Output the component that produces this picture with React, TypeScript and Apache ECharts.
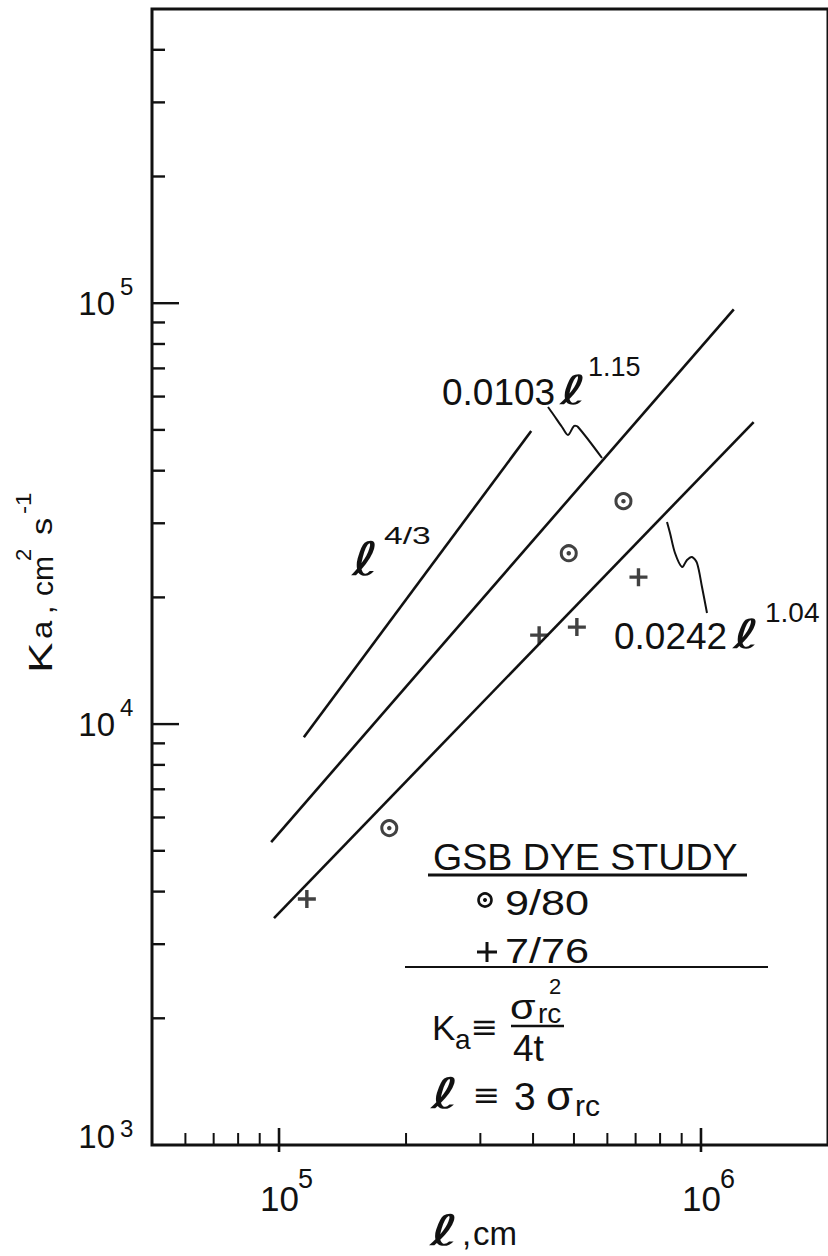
import React, { useEffect, useRef } from "react";
import * as echarts from "echarts";

// ---- axis ranges ----
const X_MIN = 5e4;
const X_MAX = 2e6;
const Y_MIN = 1e3;
const Y_MAX = 5e5;

// ---- ticks ----
const xMajorTicks = [1e5, 1e6];
const xMinorTicks = [6e4, 7e4, 8e4, 9e4, 2e5, 3e5, 4e5, 5e5, 6e5, 7e5, 8e5, 9e5];
const yMajorTicks = [1e4, 1e5];
const yMinorTicks = [
  2e3, 3e3, 4e3, 5e3, 6e3, 7e3, 8e3, 9e3,
  2e4, 3e4, 4e4, 5e4, 6e4, 7e4, 8e4, 9e4,
  2e5, 3e5, 4e5,
];
const xTickLabels = [1e5, 1e6];
const yTickLabels = [1e3, 1e4, 1e5];

// ---- lines (end points) ----
const line43 = [
  [1.145e5, 9310],
  [3.96e5, 4.97e4],
];
const fit0103 = [
  [9.58e4, 5245],
  [1.196e6, 9.67e4],
];
const fit0242 = [
  [9.73e4, 3461],
  [1.333e6, 5.22e4],
];

// ---- data points ----
const dye980 = [
  [1.825e5, 5662],
  [4.86e5, 2.547e4],
  [6.55e5, 3.386e4],
];
const dye776 = [
  [1.164e5, 3840],
  [4.135e5, 1.627e4],
  [5.08e5, 1.7e4],
  [7.11e5, 2.234e4],
];

const INK = "#111111";
const FF = '"Liberation Sans", Arial, "DejaVu Sans", sans-serif';
const LF = '"DejaVu Sans", sans-serif';

const PLUS = "path://M7.3 0h3.4v7.3h7.3v3.4h-7.3v7.3h-3.4v-7.3h-7.3v-3.4h7.3z";

type TOpts = { italic?: boolean; family?: string; align?: string; sx?: number };
const T = (text: string, x: number, y: number, size: number, o: TOpts = {}) => ({
  type: "text",
  x,
  y,
  scaleX: o.sx || 1,
  silent: true,
  style: {
    text,
    font: `${o.italic ? "italic " : ""}${size}px ${o.family || FF}`,
    fill: INK,
    align: o.align || "left",
    textAlign: o.align || "left",
    verticalAlign: "middle",
    textVerticalAlign: "middle",
  },
});
const ELL = (x: number, y: number, size: number, sx = 1.4) =>
  T("ℓ", x, y, size, { italic: true, family: LF, sx });

const L = (x1: number, y1: number, x2: number, y2: number, w: number) => ({
  type: "line",
  silent: true,
  shape: { x1, y1, x2, y2 },
  style: { stroke: INK, lineWidth: w },
});

const isPow10 = (v: number) => Math.abs(Math.log10(v) - Math.round(Math.log10(v))) < 1e-9;

const tickSeries = (vals: number[], axis: "x" | "y") => ({
  type: "custom",
  coordinateSystem: "cartesian2d",
  clip: false,
  silent: true,
  z: 5,
  data: vals.map((v) => (axis === "x" ? [v, Y_MIN] : [X_MIN, v])),
  renderItem: (params: any, api: any) => {
    const v = api.value(axis === "x" ? 0 : 1);
    const p = api.coord([api.value(0), api.value(1)]);
    const major = isPow10(v);
    if (axis === "x") {
      const up = major ? 17 : 12;
      const down = major ? 7 : 0;
      return {
        type: "line",
        shape: { x1: p[0], y1: p[1] + down, x2: p[0], y2: p[1] - up },
        style: { stroke: INK, lineWidth: major ? 2.6 : 2 },
      };
    }
    const len = major ? 27 : 13;
    return {
      type: "line",
      shape: { x1: p[0], y1: p[1], x2: p[0] + len, y2: p[1] },
      style: { stroke: INK, lineWidth: 2.4 },
    };
  },
});

const labelSeries = (vals: number[], axis: "x" | "y") => ({
  type: "custom",
  coordinateSystem: "cartesian2d",
  clip: false,
  silent: true,
  z: 5,
  data: vals.map((v) => (axis === "x" ? [v, Y_MIN] : [X_MIN, v])),
  renderItem: (params: any, api: any) => {
    const v = api.value(axis === "x" ? 0 : 1);
    const p = api.coord([api.value(0), api.value(1)]);
    const e = String(Math.round(Math.log10(v)));
    if (axis === "x") {
      return {
        type: "group",
        children: [
          T("10", p[0] + 20, p[1] + 53, 35, { align: "right" }),
          T(e, p[0] + 19, p[1] + 34, 27),
        ],
      };
    }
    const dy = v === Y_MIN ? -9 : 0;
    return {
      type: "group",
      children: [
        T("10", p[0] - 37, p[1] + dy, 33, { align: "right" }),
        T(e, p[0] - 32, p[1] - 17, 24),
      ],
    };
  },
});

const lineSeries = (data: number[][]) => ({
  type: "line",
  data,
  symbol: "none",
  silent: true,
  z: 3,
  lineStyle: { color: INK, width: 2.6 },
});

export default function App() {
  const ref = useRef<HTMLDivElement>(null);

  useEffect(() => {
    if (!ref.current) return;
    const chart = echarts.init(ref.current, null, { renderer: "svg" });

    const axisCommon = {
      axisLine: { show: false },
      axisTick: { show: false },
      axisLabel: { show: false },
      splitLine: { show: false },
      minorTick: { show: false },
    };

    const graphic: any[] = [
      // line annotations
      T("0.0103", 442, 392, 37),
      ELL(560, 390, 40, 1.6),
      T("1.15", 588, 367, 27),
      {
        type: "polyline",
        silent: true,
        shape: {
          points: [
            [548, 407], [553, 414], [562, 427], [568, 435], [574, 426], [578, 427], [602, 458],
          ],
          smooth: 0.3,
        },
        style: { stroke: INK, lineWidth: 2, fill: "none" },
      },
      ELL(352, 559, 46, 1.4),
      T("4/3", 384, 536, 24, { sx: 1.4 }),
      T("0.0242", 614, 636, 37),
      ELL(733, 634, 40, 1.6),
      T("1.04", 765, 612, 28),
      {
        type: "polyline",
        silent: true,
        shape: {
          points: [
            [667, 522], [670, 533], [675, 553], [682, 567], [687, 560], [692, 557], [697, 563], [702, 587], [707, 613],
          ],
          smooth: 0.3,
        },
        style: { stroke: INK, lineWidth: 2, fill: "none" },
      },

      // legend block
      T("GSB DYE STUDY", 433, 857, 37, { sx: 1.015 }),
      L(428, 875, 747, 875, 3),
      { type: "circle", silent: true, shape: { cx: 485, cy: 900, r: 6.5 }, style: { fill: "#fff", stroke: INK, lineWidth: 2.6 } },
      { type: "circle", silent: true, shape: { cx: 485, cy: 900, r: 2 }, style: { fill: INK } },
      T("9/80", 505, 902, 36, { sx: 1.2 }),
      L(477, 952, 497, 952, 3),
      L(487, 942, 487, 962, 3),
      T("7/76", 505, 950, 36, { sx: 1.2 }),
      L(405, 967, 768, 967, 2),

      // Ka definition
      T("K", 432, 1027, 35),
      T("a", 455, 1039, 28),
      T("≡", 472, 1027, 34, { sx: 1.25 }),
      T("σ", 510, 1006, 36, { sx: 1.15 }),
      T("rc", 538, 1013, 28),
      T("2", 549, 986, 22),
      L(511, 1026, 564, 1026, 2.5),
      T("4t", 513, 1048, 37),

      // l definition
      ELL(431, 1093, 42, 1.6),
      T("≡", 474, 1095, 34, { sx: 1.25 }),
      T("3", 514, 1096, 39),
      T("σ", 546, 1096, 40, { sx: 1.1 }),
      T("rc", 575, 1105, 30),

      // x axis title
      ELL(430, 1231, 42, 1.65),
      T(",", 462, 1233, 33),
      T("cm", 473, 1233, 33),

      // y axis title (rotated)
      {
        type: "group",
        x: 40,
        y: 673,
        rotation: Math.PI / 2,
        silent: true,
        children: [
          T("K", 0, 0, 34, { sx: 1.35 }),
          T("a", 34, 2, 30, { sx: 1.1 }),
          T(",", 59, 2, 30),
          T("cm", 77, 2, 30),
          T("2", 112, -17, 22),
          T("s", 138, 2, 30, { sx: 1.15 }),
          T("-1", 159, -17, 22, { sx: 1.1 }),
        ],
      },
    ];

    chart.setOption({
      animation: false,
      backgroundColor: "#ffffff",
      grid: {
        left: 152,
        top: 9,
        width: 681,
        height: 1136,
        show: true,
        borderColor: INK,
        borderWidth: 3,
        backgroundColor: "transparent",
      },
      xAxis: { type: "log", logBase: 10, min: X_MIN, max: X_MAX, ...axisCommon },
      yAxis: { type: "log", logBase: 10, min: Y_MIN, max: Y_MAX, ...axisCommon },
      series: [
        lineSeries(line43),
        lineSeries(fit0103),
        lineSeries(fit0242),
        {
          type: "scatter",
          data: dye980,
          symbol: "circle",
          symbolSize: 15,
          silent: true,
          z: 4,
          itemStyle: { color: "#fff", borderColor: INK, borderWidth: 3 },
        },
        {
          type: "scatter",
          data: dye980,
          symbol: "circle",
          symbolSize: 4.5,
          silent: true,
          z: 5,
          itemStyle: { color: INK },
        },
        {
          type: "scatter",
          data: dye776,
          symbol: PLUS,
          symbolSize: 18,
          silent: true,
          z: 4,
          itemStyle: { color: INK },
        },
        tickSeries([...xMajorTicks, ...xMinorTicks], "x"),
        tickSeries([...yMajorTicks, ...yMinorTicks], "y"),
        labelSeries(xTickLabels, "x"),
        labelSeries(yTickLabels, "y"),
      ],
      graphic,
    });

    return () => chart.dispose();
  }, []);

  return (
    <div
      ref={ref}
      style={{ position: "absolute", left: 0, top: 0, width: 828, height: 1256, background: "#fff" }}
    />
  );
}
